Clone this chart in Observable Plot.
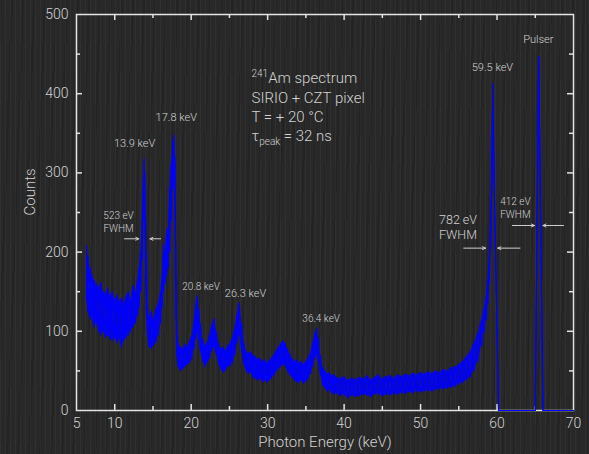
<!DOCTYPE html>
<html><head><meta charset="utf-8">
<script src="https://cdn.jsdelivr.net/npm/d3@7"></script>
<script src="https://cdn.jsdelivr.net/npm/@observablehq/plot@0.6"></script>
<style>
html,body{margin:0;padding:0;}
body{width:589px;height:454px;overflow:hidden;
 background-color:#282828;
 background-image:repeating-linear-gradient(90deg, rgba(255,255,255,0.035) 0px, rgba(255,255,255,0.035) 1px, rgba(0,0,0,0) 1px, rgba(0,0,0,0) 5px),
 repeating-linear-gradient(92deg, rgba(0,0,0,0.12) 0px, rgba(0,0,0,0.12) 2px, rgba(0,0,0,0) 2px, rgba(0,0,0,0) 11px);}
</style></head><body><div id="chart"></div><script>
// Spectrum: energy (keV), upper and lower edge of the noisy band (counts)
const energy = [
 6.3,6.5,6.8,7.0,7.3,7.6,7.9,8.2,8.5,8.8,
 9.1,9.4,9.7,10.0,10.3,10.6,10.9,11.2,11.5,11.8,
 12.1,12.4,12.7,13.0,13.2,13.4,13.6,13.75,13.85,13.95,
 14.05,14.15,14.3,14.5,14.8,15.1,15.4,15.7,16.0,16.2,
 16.4,16.6,16.8,17.0,17.2,17.4,17.6,17.75,17.9,18.0,
 18.1,18.3,18.6,18.9,19.2,19.5,19.8,20.1,20.4,20.6,
 20.8,21.0,21.2,21.5,21.8,22.1,22.4,22.7,23.0,23.3,
 23.6,23.9,24.2,24.5,24.8,25.1,25.4,25.7,26.0,26.3,
 26.6,26.9,27.2,27.5,27.8,28.1,28.4,28.7,29.0,29.3,
 29.6,29.9,30.2,30.5,30.8,31.1,31.4,31.7,32.0,32.3,
 32.6,32.9,33.2,33.5,33.8,34.1,34.4,34.7,35.0,35.3,
 35.6,35.9,36.2,36.4,36.6,36.9,37.2,37.5,37.8,38.1,
 38.4,38.7,39.0,39.5,40.0,40.5,41.0,41.5,42.0,42.5,
 43.0,43.5,44.0,44.5,45.0,45.5,46.0,46.5,47.0,47.5,
 48.0,48.5,49.0,49.5,50.0,50.5,51.0,51.5,52.0,52.5,
 53.0,53.5,54.0,54.5,55.0,55.5,56.0,56.5,57.0,57.5,
 58.0,58.3,58.6,58.8,59.0,59.2,59.35,59.45,59.6,60.2,
 65.0,65.45,66.0,70
];
const upper = [
 208,195,180,172,165,160,155,162,150,148,
 155,145,150,140,146,138,142,135,145,150,
 140,158,150,165,180,200,240,290,318,300,
 240,200,130,118,125,115,128,135,150,170,
 210,200,230,220,280,310,340,348,320,200,
 110,85,80,78,84,80,88,95,115,135,
 145,128,110,90,82,86,95,108,116,100,
 85,78,80,76,82,85,92,105,122,136,
 110,85,75,72,74,70,68,65,66,62,
 64,60,63,66,70,75,80,84,88,85,
 78,72,66,62,64,60,62,58,62,66,
 72,85,98,104,92,70,55,50,46,48,
 44,45,42,40,43,38,41,39,42,40,
 44,39,42,45,40,43,44,41,45,43,
 46,44,47,45,48,46,49,47,50,48,
 52,50,54,55,58,62,68,74,85,98,
 115,128,145,165,195,260,340,413,300,0,
 0,447,0,0
];
const lower = [
 140,125,115,118,105,110,100,95,100,92,
 95,90,88,92,85,90,80,88,92,95,
 100,105,110,120,130,150,190,240,270,230,
 160,120,95,80,78,82,86,95,110,130,
 150,160,170,180,200,240,280,300,230,120,
 70,55,50,52,55,58,60,65,78,90,
 100,90,75,62,55,60,65,75,80,70,
 58,52,48,50,55,56,60,70,85,95,
 75,58,50,46,48,42,40,38,40,36,
 38,35,38,40,44,48,52,55,58,56,
 50,45,42,38,36,35,38,34,36,40,
 46,55,66,72,62,45,32,28,24,26,
 22,20,22,18,20,15,19,17,18,20,
 19,17,20,21,18,20,19,21,20,22,
 21,23,22,24,23,24,25,24,26,27,
 27,28,29,30,33,35,38,42,50,62,
 82,98,115,135,160,210,290,380,300,0,
 0,447,0,0
];
// Axis ticks
const xLabels = [5,10,20,30,40,50,60,70];
const xMajor = [10,20,30,40,50,60];
const xMinor = [15,25,35,45,55,65];
const yLabels = [0,100,200,300,400,500];
const yMajor = [100,200,300,400];
const yMinor = [50,150,250,350,450];
// Peak annotations
const peakText = ["13.9 keV","17.8 keV","26.3 keV","59.5 keV","Pulser"];
const peakE    = [12.6, 18.05, 27.1, 59.4, 65.4];
const peakC    = [337.5, 369.5, 147.3, 433.5, 468];
const smallText = ["20.8 keV","36.4 keV"];
const smallE    = [21.3, 37.0];
const smallC    = [156.5, 115.8];
const fwhmText = ["523 eV\nFWHM","412 eV\nFWHM"];
const fwhmE    = [10.5, 62.4];
const fwhmC    = [239.4, 256.5];
const bigText = ["782 eV\nFWHM"];
const bigE    = [54.9];
const bigC    = [232];
// FWHM arrows: start energy, end energy, count level
const arrowX1 = [11.28, 16.0, 55.65, 63.0, 62.0, 68.7];
const arrowX2 = [13.15, 14.6, 58.5, 60.1, 64.9, 66.0];
const arrowY  = [216.8, 216.8, 205, 205, 233.6, 233.6];
const infoLines = ["241Am spectrum","SIRIO + CZT pixel","T = + 20 °C","τpeak = 32 ns"];

const data = energy.map((E,i)=>({E, lo: lower[i], hi: upper[i]}));
// two crossing traces through the read edges give the noisy texture
const zigA = data.map((d,i)=>({E:d.E, C: i%2 ? d.lo : d.hi}));
const zigB = data.map((d,i)=>({E:d.E, C: i%2 ? d.hi : d.lo}));
const W=589,H=454,mL=76,mR=16,mT=14,mB=44;
const innerW=W-mL-mR, innerH=H-mT-mB;
const txt="#d2d2d2", axisCol="#e4e4e4", blue="#0000ff";
const arrows = arrowX1.map((x1,i)=>({x1, x2: arrowX2[i], y: arrowY[i]}));

const chart = Plot.plot({
  width:W, height:H, marginLeft:mL, marginRight:mR, marginTop:mT, marginBottom:mB,
  style:{background:"transparent", fontFamily:"Roboto, 'Noto Sans', sans-serif", fontWeight:300, color:txt},
  x:{domain:[5,70]}, y:{domain:[0,500]},
  marks:[
    Plot.frame({stroke:axisCol, strokeWidth:1.5}),
    Plot.tickX(xMajor,{x:d=>d, stroke:axisCol, strokeWidth:1.5, insetTop:innerH-6}),
    Plot.tickX(xMinor,{x:d=>d, stroke:axisCol, strokeWidth:1.5, insetTop:innerH-4}),
    Plot.tickX(xMajor,{x:d=>d, stroke:axisCol, strokeWidth:1.5, insetBottom:innerH-6}),
    Plot.tickX(xMinor,{x:d=>d, stroke:axisCol, strokeWidth:1.5, insetBottom:innerH-4}),
    Plot.tickY(yMajor,{y:d=>d, stroke:axisCol, strokeWidth:1.5, insetRight:innerW-6}),
    Plot.tickY(yMinor,{y:d=>d, stroke:axisCol, strokeWidth:1.5, insetRight:innerW-4}),
    Plot.tickY(yMajor,{y:d=>d, stroke:axisCol, strokeWidth:1.5, insetLeft:innerW-6}),
    Plot.tickY(yMinor,{y:d=>d, stroke:axisCol, strokeWidth:1.5, insetLeft:innerW-4}),
    Plot.axisX({ticks:xLabels, tickSize:0, tickPadding:8, label:null, fontSize:14, fill:txt}),
    Plot.axisY({ticks:yLabels, tickSize:0, tickPadding:8, label:null, fontSize:14, fill:txt}),
    Plot.text(["Counts"],{frameAnchor:"left", dx:-46, dy:3, rotate:-90, fontSize:15, fill:txt}),
    Plot.text(["Photon Energy (keV)"],{frameAnchor:"bottom", lineAnchor:"middle", dy:32, fontSize:15, fill:txt}),
    Plot.areaY(data,{x:"E", y1:"lo", y2:"hi", fill:blue, fillOpacity:0.72, curve:"linear"}),
    Plot.lineY(zigA,{x:"E", y:"C", stroke:blue, strokeWidth:1.1}),
    Plot.lineY(zigB,{x:"E", y:"C", stroke:blue, strokeWidth:1.1}),
    Plot.text(peakText,{x:peakE, y:peakC, fontSize:11, fill:txt}),
    Plot.text(smallText,{x:smallE, y:smallC, fontSize:10, fill:txt}),
    Plot.text(fwhmText,{x:fwhmE, y:fwhmC, fontSize:10, lineHeight:1.3, fill:txt}),
    Plot.text(bigText,{x:bigE, y:bigC, fontSize:12.5, lineHeight:1.2, fill:txt}),
    Plot.arrow(arrows,{x1:"x1", x2:"x2", y1:"y", y2:"y", stroke:"#cfcfcf", strokeWidth:1, headLength:5, headAngle:50}),
    ...infoLines.map((s,i)=>Plot.text([s],{frameAnchor:"top-left", dx:175, dy:[58,78,97,116][i], textAnchor:"start", fontSize:15, fill:txt}))
  ]
});
document.getElementById("chart").appendChild(chart);
// superscript / subscript
d3.select(chart).selectAll("text").each(function(){
  const t = this.textContent;
  if (t === "241Am spectrum") {
    const s = d3.select(this); s.text("");
    s.append("tspan").attr("font-size",10).attr("dy",-6).text("241");
    s.append("tspan").attr("dy",6).text("Am spectrum");
  } else if (t === "τpeak = 32 ns") {
    const s = d3.select(this); s.text("");
    s.append("tspan").text("τ");
    s.append("tspan").attr("font-size",10).attr("dy",4).text("peak");
    s.append("tspan").attr("dy",-4).text(" = 32 ns");
  }
});
</script></body></html>
